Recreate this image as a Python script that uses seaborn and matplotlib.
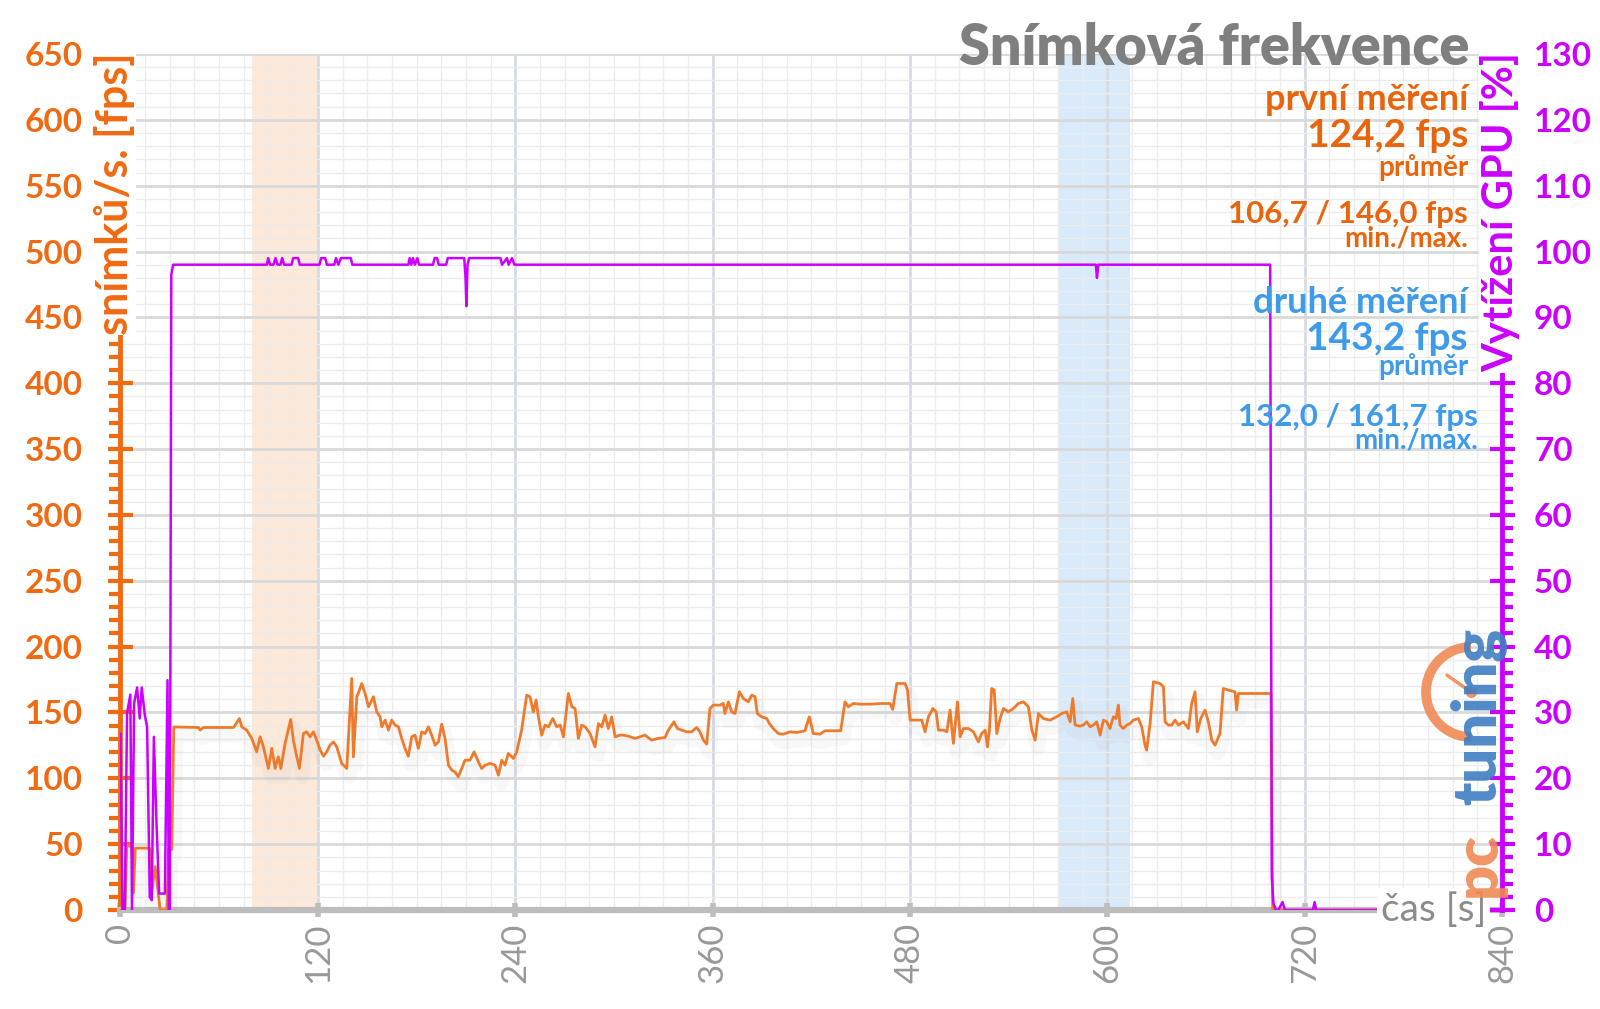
import numpy as np
import pandas as pd
import seaborn as sns
import matplotlib.pyplot as plt
import matplotlib.patheffects as pe
from matplotlib.ticker import MultipleLocator
from matplotlib.patches import Arc

# frame rate (fps), time in seconds
fps_t = [0, 2.8, 3.8, 6.9, 7.9, 9.0, 17.7, 18.5, 21.1, 22.5, 24.1, 28.2, 29.2, 31.2, 32.4,
         47.4, 48.4, 50.4, 68.7, 69.7, 72.3, 73.7, 76.8, 79.8, 82.8, 84.9, 86.9, 89.9, 92.0,
         94.0, 96.0, 97.5, 100.1, 103.5, 105.1, 107.2, 108.8, 111.2, 113.2, 115.3, 117.3,
         119.3, 121.4, 123.4, 125.4, 127.4, 129.5, 131.5, 134.5, 137.6, 140.6, 141.6, 143.7,
         145.3, 146.7, 148.7, 150.8, 152.8, 153.8, 155.8, 157.8, 158.9, 160.9, 162.9, 164.9,
         166.9, 169.0, 171.0, 173.0, 175.0, 177.1, 179.1, 181.1, 183.2, 185.2, 187.2, 189.2,
         191.3, 193.3, 195.3, 197.3, 199.4, 201.4, 203.4, 205.4, 207.5, 209.5, 212.5, 215.0,
         217.6, 219.6, 221.7, 224.7, 227.7, 229.8, 231.8, 233.8, 235.8, 238.9, 240.9, 243.9,
         247.0, 249.0, 251.0, 252.7, 254.1, 256.1, 258.1, 260.2, 262.8, 265.2, 267.3, 269.3,
         272.3, 274.4, 276.4, 278.4, 280.4, 282.5, 285.5, 288.5, 290.6, 292.6, 294.6, 296.6,
         298.7, 300.7, 303.7, 305.7, 308.8, 312.8, 315.9, 318.9, 322.9, 327.0, 331.1, 333.1,
         336.5, 338.6, 341.2, 344.2, 347.3, 350.3, 352.3, 354.4, 356.4, 358.4, 360.4, 364.5,
         366.5, 367.5, 369.6, 371.6, 373.6, 376.3, 378.7, 381.7, 383.8, 385.8, 387.2, 389.8,
         392.9, 394.5, 396.9, 400.0, 403.0, 407.1, 411.1, 416.2, 418.8, 421.2, 425.3, 428.3,
         433.4, 437.9, 440.5, 442.5, 445.6, 449.7, 455.8, 461.8, 467.9, 469.5, 472.0, 477.0,
         478.5, 480.1, 484.1, 487.2, 489.2, 491.2, 493.9, 495.9, 497.3, 500.3, 502.4, 504.4,
         506.4, 508.9, 510.5, 512.5, 515.5, 518.6, 521.6, 523.6, 525.7, 527.1, 528.3, 529.7,
         531.2, 532.8, 534.8, 536.8, 539.9, 542.9, 545.9, 549.0, 552.0, 554.1, 556.1, 558.1,
         561.1, 565.2, 569.2, 572.3, 575.3, 577.4, 579.0, 580.4, 583.4, 585.4, 587.5, 589.5,
         591.5, 593.5, 595.6, 597.6, 599.6, 601.6, 603.7, 605.3, 606.7, 607.7, 609.7, 611.8,
         613.8, 615.8, 618.9, 620.9, 622.9, 623.9, 626.0, 628.0, 632.0, 634.1, 635.1, 637.1,
         639.1, 641.2, 643.2, 646.2, 649.3, 651.3, 653.3, 654.7, 656.8, 659.4, 661.4, 663.5,
         665.5, 668.5, 670.5, 673.6, 677.6, 678.6, 679.7, 688.8, 699.5, 700.5, 767.0]
fps_v = [0, 0, 49, 48, 13, 47, 47, 9, 33, 18, 0, 0, 46, 46, 139,
         138.6, 136.6, 138.6, 138.6, 140.4, 145.4, 139.1, 136.6, 130.3, 120.1, 131.5, 123.9,
         107.5, 122.7, 107.5, 116.3, 107.5, 126.5, 144.7, 129.0, 116.3, 107.5, 134.0, 135.3,
         131.5, 135.3, 129.0, 121.4, 116.8, 120.1, 125.2, 127.7, 123.9, 111.3, 107.5, 175.8,
         116.3, 161.9, 167.0, 172.0, 164.4, 154.3, 159.4, 161.9, 150.5, 146.7, 139.1, 144.2,
         136.6, 144.2,
         140.4, 139.1, 130.3, 122.7, 116.8, 131.5, 132.8, 122.7, 135.3, 134.0, 139.1, 132.8,
         125.2, 127.7, 141.1, 130.3, 110.0, 106.2, 104.9, 101.1, 107.5, 113.8, 113.8, 120.1,
         112.5, 107.5, 110.0, 111.3, 110.0, 102.4, 113.8, 110.0, 118.9, 115.1, 120.1, 136.6,
         163.2, 161.9, 150.5, 159.4, 146.7, 132.8, 140.4, 139.1, 145.4, 139.1, 140.4, 131.5,
         164.4, 154.3, 153.0, 130.3, 140.4, 139.1, 134.0, 123.9, 141.6, 139.1, 148.0, 137.8,
         146.7, 131.5, 132.8, 132.8, 132.0, 130.3, 131.5, 132.8, 129.0, 130.3, 131.0, 136.6,
         142.9, 137.8, 136.6, 135.3, 135.3, 138.6, 135.3, 129.0, 126.0, 153.0, 155.6, 155.6,
         156.8, 149.2, 158.1, 150.5, 149.2, 165.7, 160.6, 158.1, 163.2, 161.9, 149.2, 146.7,
         145.4, 141.6, 137.8, 134.0, 133.5, 135.3, 134.8, 136.1, 146.7, 134.0, 133.5, 136.1,
         136.1, 136.1, 158.1, 154.3, 156.8, 156.3, 156.3, 156.8, 156.8, 152.3, 172.0, 172.0,
         167.0, 144.2, 144.2, 144.2, 135.3, 146.7, 153.0, 150.5, 136.6, 136.6, 135.3, 151.8,
         126.5, 158.1, 131.5, 137.8, 137.8, 135.3, 127.7, 134.0, 136.6, 123.9, 136.6, 168.2,
         167.0, 134.0, 145.4, 153.0, 150.5, 153.0, 156.8, 158.1, 154.3, 136.6, 129.0, 149.2,
         145.4, 144.2, 146.7, 149.2, 150.5, 142.9, 160.6, 140.4, 139.6, 140.4, 142.9, 139.1,
         140.4, 142.9, 132.8, 144.2, 142.9, 137.8, 146.7, 145.4, 155.6, 140.4, 137.8, 140.4,
         141.6, 144.2, 145.4, 139.1, 125.2, 121.4, 141.6, 173.3, 172.0, 169.5, 142.9, 140.4,
         140.4, 144.2, 140.4, 142.9, 137.8, 156.8, 165.7, 135.3, 145.4, 151.8, 142.9, 129.0,
         125.2, 134.0, 168.2, 167.0, 165.7, 151.8, 164.4, 164.4, 164.4, 0, 0]

# GPU load (%)
gpu_t = [0, 1.2, 2.6, 4.0, 6.0, 7.0, 8.3, 10.1, 11.7, 12.9, 14.8, 16.2, 17.8, 19.0, 20.3,
         21.9, 23.5, 27.0, 28.6, 29.4, 30.0, 30.9, 32.0, 89.0, 89.8, 91.0, 93.0, 94.3, 95.5,
         97.2, 98.3, 99.5, 104.0, 105.0, 108.0, 109.0, 121.0, 122.0, 124.5, 125.5, 130.0,
         131.0, 132.5, 134.0, 140.0, 141.0, 175.0, 175.8, 176.8, 177.8, 179.0, 180.5, 181.5,
         190.0, 191.0, 192.5, 193.5, 198.0, 199.0, 209.0, 209.8, 210.3, 211.0, 212.0, 231.0,
         232.0, 235.0, 236.0, 238.0, 239.5, 593.0, 593.7, 594.5, 699.0, 700.0, 701.0, 702.5,
         704.0, 706.5, 708.0, 725.0, 726.0, 727.0, 767.0]
gpu_v = [26.8, 0, 0, 29.9, 32.7, 0, 31.4, 33.8, 29.1, 33.8, 29.6, 27.8, 2.0, 1.5, 26.3,
         13.2, 2.5, 2.5, 34.9, 0, 0, 96.5, 98, 98, 99, 98, 98, 99, 98,
         98, 99, 98, 98, 99, 99, 98, 98, 99, 99, 98, 98,
         99, 98, 99, 99, 98, 98, 99, 98, 99, 98, 99, 98,
         98, 99, 99, 98, 98, 99, 99, 96, 91.7, 98, 99, 99,
         98, 99, 98, 99, 98, 98, 96, 98, 98, 5, 1, 0,
         0, 1.2, 0, 0, 1.2, 0, 0]

spans = [(80, 120, '#FDE9D9'), (570, 614, '#D9EAFB')]
x_ticks = list(range(0, 841, 120))
left_ticks = list(range(0, 651, 50))
right_ticks = list(range(0, 131, 10))

ORANGE = '#F06A12'
PURPLE = '#CC00FF'
BLUE = '#3D9BEA'
GRAY = '#8C8C8C'

sns.set_theme(style='white')
plt.rcParams['font.family'] = ['Lato', 'DejaVu Sans']

fig = plt.figure(figsize=(16, 10.09), dpi=100)
ax = fig.add_axes([0.0753, 0.0981, 0.8635, 0.8484])

for a, b, c in spans:
    ax.axvspan(a, b, color=c, zorder=0, lw=0)

ax.set_axisbelow(True)
ax.xaxis.set_minor_locator(MultipleLocator(15))
ax.yaxis.set_minor_locator(MultipleLocator(10))
ax.xaxis.grid(True, which='major', color='#D6DAE4', lw=2)
ax.yaxis.grid(True, which='major', color='#D9D9D9', lw=2)
ax.grid(True, which='minor', color='#ECECEC', lw=1)

df_fps = pd.DataFrame({'t': fps_t, 'fps': fps_v})
sns.lineplot(data=df_fps, x='t', y='fps', ax=ax, color='#EE7A2C', lw=2, zorder=3,
             path_effects=[pe.SimpleLineShadow(offset=(2, -6), shadow_color='#888888',
                                               alpha=0.06, linewidth=10), pe.Normal()])

ax.set_xlim(0, 840)
ax.set_ylim(0, 650)
ax.set_xticks(x_ticks)
ax.set_xticklabels([str(v) for v in x_ticks], rotation=90, color='#999999', fontsize=25)
ax.set_yticks(left_ticks)
ax.set_yticklabels([str(v) for v in left_ticks], color=ORANGE, fontsize=24, fontweight='bold')
ax.set_xlabel('')
ax.set_ylabel('')

for s in ['top', 'right']:
    ax.spines[s].set_visible(False)
ax.spines['left'].set_color(ORANGE)
ax.spines['left'].set_linewidth(3.5)
ax.spines['bottom'].set_color('#BDBDBD')
ax.spines['bottom'].set_linewidth(4.5)
ax.tick_params(axis='y', which='major', direction='inout', length=18, width=3, color=ORANGE, pad=18, left=True)
ax.tick_params(axis='y', which='minor', direction='out', length=8, width=3, color=ORANGE, left=True)
ax.tick_params(axis='x', which='major', direction='inout', length=10, width=4, color='#BDBDBD', pad=4, bottom=True)
ax.tick_params(axis='x', which='minor', length=0)

ax2 = ax.twinx()
df_gpu = pd.DataFrame({'t': gpu_t, 'gpu': gpu_v})
sns.lineplot(data=df_gpu, x='t', y='gpu', ax=ax2, color=PURPLE, lw=1.8, zorder=4)
ax2.set_ylim(0, 130)
ax2.set_xlim(0, 840)
ax2.set_yticks(right_ticks)
ax2.set_yticklabels([str(v) for v in right_ticks], color=PURPLE, fontsize=24, fontweight='bold')
ax2.yaxis.set_minor_locator(MultipleLocator(2))
ax2.set_ylabel('')
for s in ['top', 'left', 'bottom']:
    ax2.spines[s].set_visible(False)
ax2.spines['right'].set_color(PURPLE)
ax2.spines['right'].set_linewidth(3.5)
ax2.tick_params(axis='y', which='major', direction='inout', length=18, width=3, color=PURPLE, pad=14, right=True)
ax2.tick_params(axis='y', which='minor', direction='out', length=8, width=3, color=PURPLE, right=True)
ax2.grid(False)

W, H = 1600.0, 1009.0


def ftxt(x, y, s, **kw):
    fig.text(x / W, 1 - y / H, s, **kw)


white = dict(boxstyle='square,pad=0.02', fc='white', ec='none')

# axis titles
ftxt(115, 52, 'snímků/s. [fps]', rotation=90, ha='center', va='top', color=ORANGE,
     fontsize=31, fontweight='bold', bbox=white)
ftxt(1500, 52, 'Vytížení GPU [%]', rotation=90, ha='center', va='top', color=PURPLE,
     fontsize=30, fontweight='bold', bbox=white)
ftxt(1486, 910, 'čas [s]', ha='right', va='center', color=GRAY, fontsize=28,
     bbox=dict(boxstyle='square,pad=0.1', fc='white', ec='none'))

# title and summary
ftxt(1469, 65, 'Snímková frekvence', ha='right', va='baseline', color='#7F7F7F',
     fontsize=40, fontweight='heavy')
ftxt(1468, 110, 'první měření', ha='right', va='baseline', color='#E8650C', fontsize=26, fontweight='bold')
ftxt(1468, 147, '124,2 fps', ha='right', va='baseline', color='#E8650C', fontsize=28, fontweight='bold')
ftxt(1468, 176, 'průměr', ha='right', va='baseline', color='#E8650C', fontsize=20, fontweight='bold')
ftxt(1468, 223, '106,7 / 146,0 fps', ha='right', va='baseline', color='#E8650C', fontsize=22.5, fontweight='bold')
ftxt(1468, 247, 'min./max.', ha='right', va='baseline', color='#E8650C', fontsize=20, fontweight='bold')
ftxt(1468, 313, 'druhé měření', ha='right', va='baseline', color=BLUE, fontsize=26, fontweight='bold')
ftxt(1468, 350, '143,2 fps', ha='right', va='baseline', color=BLUE, fontsize=28, fontweight='bold')
ftxt(1468, 375, 'průměr', ha='right', va='baseline', color=BLUE, fontsize=20, fontweight='bold')
ftxt(1478, 426, '132,0 / 161,7 fps', ha='right', va='baseline', color=BLUE, fontsize=22.5, fontweight='bold')
ftxt(1478, 449, 'min./max.', ha='right', va='baseline', color=BLUE, fontsize=20, fontweight='bold')

# pctuning logo watermark
ftxt(1478, 897, 'pc', rotation=90, ha='center', va='bottom', color='#F08A55', fontsize=44,
     fontweight='heavy', alpha=0.9)
ftxt(1478, 805, 'tuning', rotation=90, ha='center', va='bottom', color='#3F7EC2', fontsize=44,
     fontweight='heavy', alpha=0.9)
lax = fig.add_axes([(1462 - 60) / W, 1 - (692 + 60) / H, 120 / W, 120 / H])
lax.set_xlim(-1, 1)
lax.set_ylim(-1, 1)
lax.axis('off')
lax.add_patch(Arc((0.15, 0), 1.5, 1.5, theta1=90, theta2=270, color='#F08A55', lw=7, alpha=0.9))
lax.plot([0.15, -0.25], [0, 0.28], color='#F08A55', lw=2.5, alpha=0.9)
lax.plot([0.15], [0], 'o', color='#F08A55', ms=7, alpha=0.9)

fig.savefig('out.png', dpi=100)
